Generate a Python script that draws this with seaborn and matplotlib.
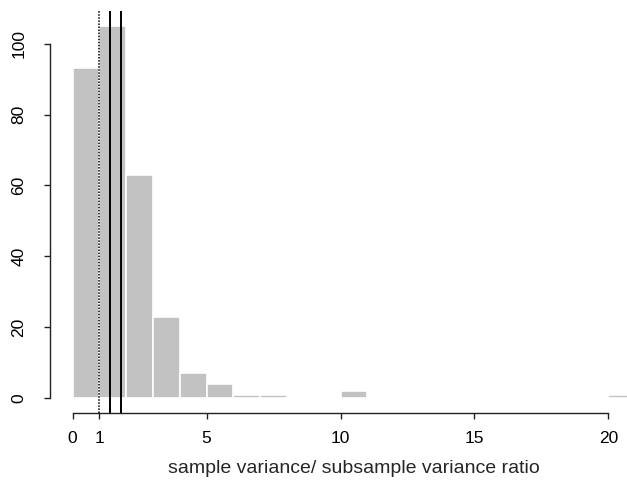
import numpy as np
import matplotlib
matplotlib.use("Agg")
import matplotlib.pyplot as plt
import seaborn as sns

# counts per unit-width bin, 0..21
bin_edges = list(range(0, 22))
counts = [93, 105, 63, 23, 7, 4, 1, 1, 0, 0, 2, 0, 0, 0, 0, 0, 0, 0, 0, 0, 1]

# reference lines
dotted_at = 1.0
solid_at = [1.38, 1.80]

x_ticks = [0, 1, 5, 10, 15, 20]
y_ticks = [0, 20, 40, 60, 80, 100]

sns.set_style("ticks")
plt.rcParams['font.family'] = ['Liberation Sans', 'DejaVu Sans']
plt.rcParams['font.size'] = 12.5

fig = plt.figure(figsize=(6.27, 4.8), dpi=100)
ax = fig.add_axes([0.080, 0.1396, 0.969, 0.8375])

centers = np.array(bin_edges[:-1]) + 0.5
sns.histplot(x=centers, weights=counts, bins=bin_edges, color='#c2c2c2',
             edgecolor='white', linewidth=1.2, alpha=1, ax=ax)

ax.axvline(dotted_at, color='black', linestyle=(0, (1, 1)), linewidth=1.1)
for x in solid_at:
    ax.axvline(x, color='black', linewidth=1.4)

ax.set_xlim(-0.84, 21.84)
ax.set_ylim(-4.2, 109.2)

# R-style axes: lines only across the tick range
sns.despine(ax=ax)
ax.spines['left'].set_bounds(0, 100)
ax.spines['bottom'].set_bounds(0, 20)
for s in ['left', 'bottom']:
    ax.spines[s].set_color('#222222')
    ax.spines[s].set_linewidth(1)

ax.set_xticks(x_ticks)
ax.set_xticklabels([str(t) for t in x_ticks])
ax.set_yticks(y_ticks)
ax.set_yticklabels([str(t) for t in y_ticks], rotation=90, va='center')
ax.tick_params(axis='both', direction='out', length=4, width=1, color='#222222',
               labelsize=12.5, labelcolor='black')
ax.tick_params(axis='x', pad=9)
ax.tick_params(axis='y', pad=13)

ax.set_ylabel('')
ax.set_xlabel('sample variance/ subsample variance ratio', fontsize=14, va='center')
ax.xaxis.set_label_coords(0.5, -0.139)

fig.savefig('out.png', dpi=100)
